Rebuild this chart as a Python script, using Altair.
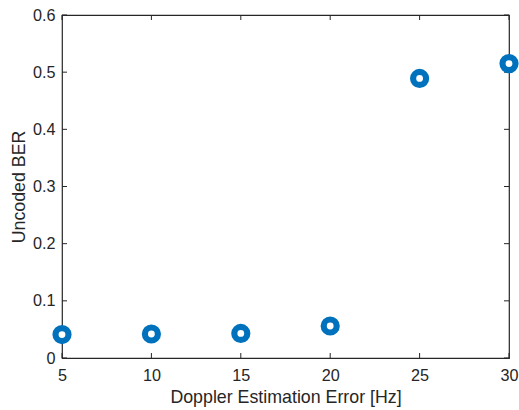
import altair as alt
import pandas as pd

doppler_err = [5, 10, 15, 20, 25, 30]
ber = [0.041, 0.042, 0.043, 0.056, 0.489, 0.515]
x_ticks = [5, 10, 15, 20, 25, 30]
y_ticks = [0, 0.1, 0.2, 0.3, 0.4, 0.5, 0.6]

W, H = 447, 343
TICK = 5
FONT = "Liberation Sans"
FS = 16.2
TFS = 17.8
COL = "#262626"

df = pd.DataFrame({"x": doppler_err, "y": ber})
dfx = pd.DataFrame({"t": x_ticks})
dfy = pd.DataFrame({"t": y_ticks})

xs = alt.Scale(domain=[5, 30], nice=False, zero=False)
ys = alt.Scale(domain=[0, 0.6], nice=False)

pts = alt.Chart(df).mark_point(
    shape="circle", filled=False, fill="white", fillOpacity=1,
    stroke="#0072BD", strokeWidth=6.2, size=169, opacity=1, clip=False
).encode(
    x=alt.X("x:Q", scale=xs, axis=alt.Axis(
        title="Doppler Estimation Error [Hz]", values=x_ticks, format="d",
        tickSize=0, labelPadding=9, labelFlush=False, domain=False, grid=False,
        labelFont=FONT, labelFontSize=FS, labelColor=COL,
        titleFont=FONT, titleFontSize=TFS, titleColor=COL, titleFontWeight="normal",
        titlePadding=5)),
    y=alt.Y("y:Q", scale=ys, axis=alt.Axis(
        title="Uncoded BER", values=y_ticks, format="~g",
        tickSize=0, labelPadding=7, labelFlush=False, domain=False, grid=False,
        labelFont=FONT, labelFontSize=FS, labelColor=COL,
        titleFont=FONT, titleFontSize=TFS, titleColor=COL, titleFontWeight="normal",
        titlePadding=4)),
)

xt_bot = alt.Chart(dfx).mark_rule(color=COL, strokeWidth=1).encode(
    x=alt.X("t:Q", scale=xs), y=alt.value(H), y2=alt.value(H - TICK))
xt_top = alt.Chart(dfx).mark_rule(color=COL, strokeWidth=1).encode(
    x=alt.X("t:Q", scale=xs), y=alt.value(0), y2=alt.value(TICK))
yt_left = alt.Chart(dfy).mark_rule(color=COL, strokeWidth=1).encode(
    y=alt.Y("t:Q", scale=ys), x=alt.value(0), x2=alt.value(TICK))
yt_right = alt.Chart(dfy).mark_rule(color=COL, strokeWidth=1).encode(
    y=alt.Y("t:Q", scale=ys), x=alt.value(W), x2=alt.value(W - TICK))

chart = alt.layer(xt_bot, xt_top, yt_left, yt_right, pts).properties(
    width=W, height=H,
    padding={"left": 62, "top": 15, "right": 10, "bottom": 52},
    autosize=alt.AutoSizeParams(type="none"),
    background="white",
).configure_view(stroke=COL, strokeWidth=1.2)

chart.save("out.html", embed_options={"renderer": "svg", "actions": False})
